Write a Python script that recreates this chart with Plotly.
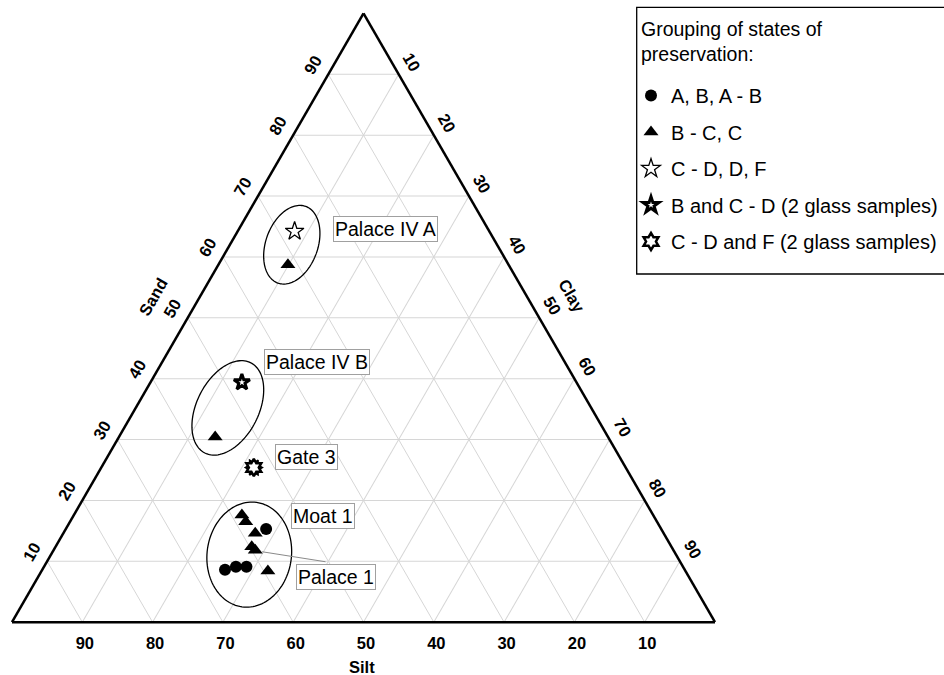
import math
import plotly.graph_objects as go

FONT = "Arial, 'Liberation Sans', Helvetica, sans-serif"

# ---- Sample compositions (%): sand / silt / clay ----
# Grouping A, B, A - B (circles)
circ_sand = [15.3, 8.6, 9.1, 9.1]
circ_silt = [56.2, 65.4, 63.6, 62.1]
circ_clay = [28.5, 26.0, 27.3, 28.8]

# Grouping B - C, C (triangles)
tri_sand = [58.7, 30.4, 17.6, 16.5, 14.6, 12.4, 11.8, 8.4]
tri_silt = [31.4, 55.9, 58.5, 58.5, 58.1, 59.7, 59.5, 59.4]
tri_clay = [9.9, 13.7, 23.9, 25.0, 27.3, 27.9, 28.7, 32.2]

# Grouping C - D, D, F (open star)
star_sand = [64.2]
star_silt = [27.7]
star_clay = [8.1]

# B and C - D, 2 glass samples
glassbc_sand = [39.4]
glassbc_silt = [47.6]
glassbc_clay = [13.0]

# C - D and F, 2 glass samples
glasscf_sand = [25.4]
glasscf_silt = [52.9]
glasscf_clay = [21.7]

ticks = [10, 20, 30, 40, 50, 60, 70, 80, 90]

# Site groupings: centre (sand, clay %), semi-axes (% of side), tilt (deg)
ell_names = ["Palace IV A", "Palace IV B", "Moat 1 / Palace 1"]
ell_sand = [62.0, 35.2, 11.1]
ell_clay = [8.8, 13.1, 28.2]
ell_minor = [3.7, 4.4, 6.0]
ell_major = [5.8, 7.2, 7.5]
ell_tilt = [20, 27, 8]

# ---- page geometry ----
W, H = 944, 675
TRI_X0, TRI_X1 = 12, 715          # px, bottom-left / bottom-right corners
TRI_BASE = 622.5                  # px from top
SIDE = TRI_X1 - TRI_X0
TRI_H = SIDE * math.sqrt(3) / 2
dom_x = [TRI_X0 / W, TRI_X1 / W]
dom_y = [(H - TRI_BASE) / H, (H - TRI_BASE + TRI_H + 0.6) / H]


def px_x(x):
    return x / W


def px_y(y):
    return 1 - y / H


def to_paper(sand, clay):
    a, c = sand / 100.0, clay / 100.0
    px = TRI_X0 + SIDE * (c + a / 2)
    py = TRI_BASE - TRI_H * a
    return px_x(px), px_y(py)


def ellipse(sand, clay, minor, major, tilt, n=120):
    s3 = math.sqrt(3) / 2
    a0, c0 = sand / 100, clay / 100
    xc, yc = c0 + a0 / 2, a0 * s3
    p, q = minor / 100, major / 100
    th = math.radians(tilt)
    A, B, C = [], [], []
    for i in range(n + 1):
        t = 2 * math.pi * i / n
        x = xc + p * math.cos(t) * math.cos(th) + q * math.sin(t) * math.sin(th)
        y = yc - p * math.cos(t) * math.sin(th) + q * math.sin(t) * math.cos(th)
        a = y / s3
        c = x - a / 2
        A.append(100 * a)
        C.append(100 * c)
        B.append(100 * (1 - a - c))
    return A, B, C


fig = go.Figure()

for i in range(len(ell_names)):
    A, B, C = ellipse(ell_sand[i], ell_clay[i], ell_minor[i], ell_major[i], ell_tilt[i])
    fig.add_trace(go.Scatterternary(
        a=A, b=B, c=C, mode="lines", line=dict(color="black", width=1.3),
        showlegend=False, hoverinfo="skip"))

# rotated under-layer giving the 12-point burst outline
fig.add_trace(go.Scatterternary(
    a=glasscf_sand, b=glasscf_silt, c=glasscf_clay, mode="markers",
    marker=dict(symbol="hexagram", size=13, angle=30, color="black",
                line=dict(color="black", width=1.5)),
    showlegend=False, hoverinfo="skip"))

series = [
    ("A, B, A - B", circ_sand, circ_silt, circ_clay,
     dict(symbol="circle", size=12, color="black", line=dict(width=0))),
    ("B - C, C", tri_sand, tri_silt, tri_clay,
     dict(symbol="triangle-up", size=13, color="black", line=dict(width=0))),
    ("C - D, D, F", star_sand, star_silt, star_clay,
     dict(symbol="star", size=14, color="white", line=dict(color="black", width=1.3))),
    ("B and C - D (2 glass samples)", glassbc_sand, glassbc_silt, glassbc_clay,
     dict(symbol="star", size=12, color="white", line=dict(color="black", width=3))),
    ("C - D and F (2 glass samples)", glasscf_sand, glasscf_silt, glasscf_clay,
     dict(symbol="hexagram", size=13, color="white", line=dict(color="black", width=2.5))),
]
for k, (name, s, si, cl, mk) in enumerate(series):
    fig.add_trace(go.Scatterternary(
        a=s, b=si, c=cl, mode="markers", name=name, marker=mk,
        legendgroup=f"g{k}"))

axis_common = dict(
    tickmode="array", tickvals=ticks, ticktext=[str(t) for t in ticks],
    showgrid=True, gridcolor="#d6d6d6", gridwidth=1,
    showline=True, linecolor="black", linewidth=2.5,
    ticks="outside", tickcolor="rgba(0,0,0,0)",
    tickfont=dict(family=FONT, size=16.5, color="black", weight="bold"),
    title=dict(text=""), min=0,
)

annotations = []
# axis titles
for txt, x, y, ang in [("Sand", 153, 297, -60), ("Clay", 572, 296, 60), ("Silt", 362, 667, 0)]:
    annotations.append(dict(text=txt, x=px_x(x), y=px_y(y), xref="paper", yref="paper",
                            xanchor="center", yanchor="middle",
                            showarrow=False, textangle=ang,
                            font=dict(family=FONT, size=16.5, color="black", weight="bold")))

# boxed site labels
site_labels = [("Palace IV A", 385, 229), ("Palace IV B", 317, 361.7),
               ("Gate 3", 306.5, 456.7), ("Moat 1", 322.5, 516), ("Palace 1", 336, 577)]
for txt, x, y in site_labels:
    annotations.append(dict(text=txt, x=px_x(x), y=px_y(y), xref="paper", yref="paper",
                            xanchor="center", yanchor="middle",
                            showarrow=False, bgcolor="white", bordercolor="#a0a0a0",
                            borderwidth=1, borderpad=1,
                            font=dict(family=FONT, size=19.5, color="black")))

# leader line to the Palace 1 sample
lx, ly = to_paper(tri_sand[6], tri_clay[6])
annotations.append(dict(text="", x=lx, y=ly, xref="paper", yref="paper",
                        showarrow=True, arrowhead=0, arrowwidth=1, arrowcolor="#8a8a8a",
                        ax=327 - lx * W, ay=562 - (1 - ly) * H, standoff=7))

# legend heading
annotations.append(dict(text="Grouping of states of<br>preservation:",
                        x=px_x(638.5), y=px_y(16), xref="paper", yref="paper",
                        xanchor="left", yanchor="top", align="left", showarrow=False,
                        font=dict(family=FONT, size=19.5, color="black")))

fig.update_layout(
    width=W, height=H, margin=dict(l=0, r=0, t=0, b=0),
    paper_bgcolor="white", plot_bgcolor="white",
    font=dict(family=FONT, color="black"),
    ternary=dict(
        sum=100, domain=dict(x=dom_x, y=dom_y), bgcolor="white",
        aaxis=dict(**axis_common, tickangle=-60, ticklen=4),
        baxis=dict(**axis_common, tickangle=0, ticklen=5),
        caxis=dict(**axis_common, tickangle=60, ticklen=3),
    ),
    legend=dict(
        x=px_x(631), y=px_y(76), xanchor="left", yanchor="top",
        borderwidth=0, bgcolor="rgba(0,0,0,0)",
        font=dict(family=FONT, size=20, color="black"),
        tracegroupgap=7.5, itemsizing="trace",
    ),
    shapes=[dict(type="rect", xref="paper", yref="paper",
                 x0=px_x(636.7), x1=px_x(960), y0=px_y(7.3), y1=px_y(274),
                 line=dict(color="black", width=1.3), fillcolor="rgba(0,0,0,0)")],
    annotations=annotations,
    showlegend=True,
)

fig.write_html("out.html")
